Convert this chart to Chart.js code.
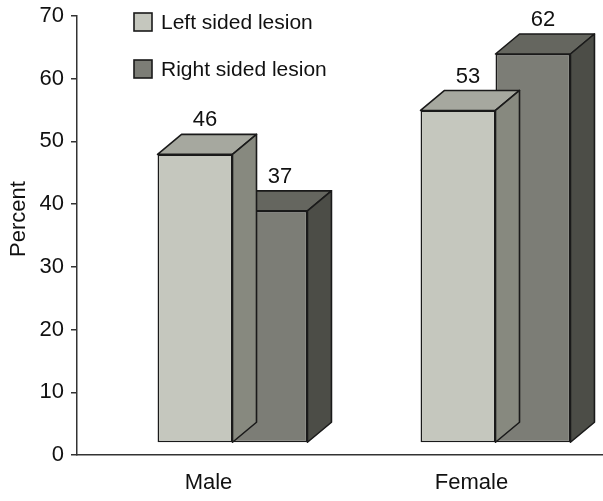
<!DOCTYPE html>
<html>
<head>
<meta charset="utf-8">
<script src="https://cdn.jsdelivr.net/npm/chart.js@4.4.0/dist/chart.umd.min.js"></script>
<style>
  html, body { margin: 0; padding: 0; background: #fff; }
</style>
</head>
<body>
<canvas id="barChart" width="603" height="501"></canvas>
<script>
const categories = ['Male', 'Female'];
const seriesNames = ['Left sided lesion', 'Right sided lesion'];
const leftSided = [46, 53];
const rightSided = [37, 62];
const yTicks = [0, 10, 20, 30, 40, 50, 60, 70];

// face colours: front, top, side
const shades = [
    { front: '#c5c7be', top: '#a6a89f', side: '#87897f' },
    { front: '#7c7d76', top: '#65665f', side: '#4c4d47' }
];
const edge = '#1a1a1a';
const textColor = '#111';
const font = "22px 'Liberation Sans', Arial, sans-serif";
const depth = { x: 24, y: -20 };
const shift = { x: 24, y: -12 };

Chart.defaults.font.family = "'Liberation Sans', Arial, sans-serif";
Chart.defaults.color = textColor;

const bars3d = {
    id: 'bars3d',
    beforeDatasetsDraw(chart) {
        chart.ctx.save();
        chart.ctx.translate(shift.x, shift.y);
    },
    afterDatasetDraw(chart, args) {
        const ctx = chart.ctx;
        const shade = shades[args.index];
        args.meta.data.forEach(bar => {
            const p = bar.getProps(['x', 'y', 'base', 'width'], true);
            const x0 = p.x - p.width / 2, x1 = p.x + p.width / 2;
            ctx.lineWidth = 1.6;
            ctx.strokeStyle = edge;
            ctx.lineJoin = 'round';
            // top face
            ctx.beginPath();
            ctx.moveTo(x0, p.y);
            ctx.lineTo(x0 + depth.x, p.y + depth.y);
            ctx.lineTo(x1 + depth.x, p.y + depth.y);
            ctx.lineTo(x1, p.y);
            ctx.closePath();
            ctx.fillStyle = shade.top;
            ctx.fill();
            ctx.stroke();
            // side face
            ctx.beginPath();
            ctx.moveTo(x1, p.y);
            ctx.lineTo(x1 + depth.x, p.y + depth.y);
            ctx.lineTo(x1 + depth.x, p.base + depth.y);
            ctx.lineTo(x1, p.base);
            ctx.closePath();
            ctx.fillStyle = shade.side;
            ctx.fill();
            ctx.stroke();
        });
    },
    afterDatasetsDraw(chart) {
        const ctx = chart.ctx;
        ctx.font = font;
        ctx.fillStyle = textColor;
        ctx.textAlign = 'center';
        ctx.textBaseline = 'middle';
        chart.data.datasets.forEach((ds, i) => {
            chart.getDatasetMeta(i).data.forEach((bar, j) => {
                const p = bar.getProps(['x', 'y'], true);
                ctx.fillText(String(ds.data[j]), p.x + 10, p.y + depth.y - 14);
            });
        });
        ctx.restore();

        // y axis title
        ctx.save();
        ctx.translate(19, 219);
        ctx.rotate(-Math.PI / 2);
        ctx.font = font;
        ctx.fillStyle = textColor;
        ctx.textAlign = 'center';
        ctx.textBaseline = 'middle';
        ctx.fillText('Percent', 0, 0);
        ctx.restore();

        // legend
        ctx.save();
        ctx.font = "21px 'Liberation Sans', Arial, sans-serif";
        ctx.textAlign = 'left';
        ctx.textBaseline = 'middle';
        chart.data.datasets.forEach((ds, i) => {
            const top = 13 + i * 47;
            ctx.fillStyle = shades[i].front;
            ctx.fillRect(134, top, 18, 18);
            ctx.lineWidth = 1.6;
            ctx.strokeStyle = edge;
            ctx.strokeRect(134, top, 18, 18);
            ctx.fillStyle = textColor;
            ctx.fillText(ds.label, 161, top + 10);
        });
        ctx.restore();
    }
};

const ctx = document.getElementById('barChart').getContext('2d');
const myChart = new Chart(ctx, {
    type: 'bar',
    data: {
        labels: categories,
        datasets: [{
            label: seriesNames[0],
            data: leftSided,
            backgroundColor: shades[0].front,
            borderColor: edge,
            borderWidth: 1.6,
            borderSkipped: false
        }, {
            label: seriesNames[1],
            data: rightSided,
            backgroundColor: shades[1].front,
            borderColor: edge,
            borderWidth: 1.6,
            borderSkipped: false
        }]
    },
    options: {
        responsive: false,
        animation: false,
        devicePixelRatio: 1,
        layout: { padding: { top: 15, left: 0, right: 0, bottom: 0 } },
        categoryPercentage: 0.57,
        barPercentage: 1,
        plugins: {
            legend: { display: false },
            tooltip: { enabled: false }
        },
        scales: {
            x: {
                grid: { display: false },
                border: { display: true, color: '#333', width: 1.5 },
                ticks: { font: { size: 22 }, padding: 7 },
                afterFit(scale) { scale.height = 46; }
            },
            y: {
                min: 0,
                max: 70,
                afterBuildTicks(scale) { scale.ticks = yTicks.map(v => ({ value: v })); },
                grid: { drawOnChartArea: false, drawTicks: true, tickLength: 6, color: '#333', lineWidth: 1.5 },
                border: { display: true, color: '#333', width: 1.5 },
                ticks: { font: { size: 22, lineHeight: 0.8 }, padding: 7 },
                afterFit(scale) { scale.width = 77; }
            }
        }
    },
    plugins: [bars3d]
});
</script>
</body>
</html>
